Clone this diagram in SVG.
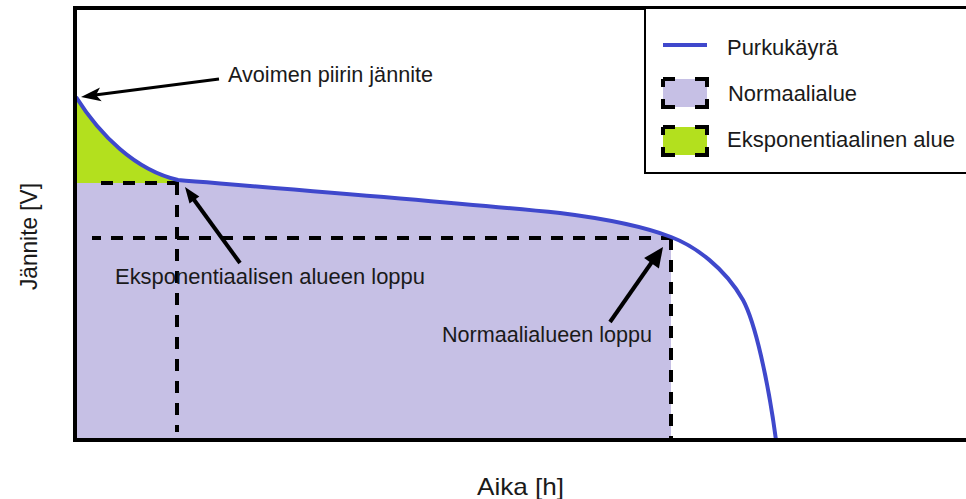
<svg xmlns="http://www.w3.org/2000/svg" width="966" height="499" viewBox="0 0 966 499">
<style>
  text { font-family: "Liberation Sans", Arial, sans-serif; fill: #1a1a1a; }
  .lbl { font-size: 21.5px; }
  .axis { font-size: 24px; }
  .dash { fill: none; stroke: #000; stroke-width: 4; stroke-dasharray: 12 10; }
  .frame { fill: none; stroke: #000; stroke-width: 4; }
  .curve { fill: none; stroke: #3f48cc; stroke-width: 4; stroke-linejoin: round; stroke-linecap: butt; }
  .arrow { fill: none; stroke: #000; stroke-width: 4; }
  .head { fill: #000; stroke: none; }
  .lbox { stroke: #000; stroke-width: 4; stroke-dasharray: 12 20 20 12 20 20 20 12 8 0; }
  .normal { fill: #c6c0e5; }
  .expo { fill: #b3e01e; }
</style>

<g id="background">
  <rect x="0" y="0" width="966" height="499" fill="#ffffff"/>
</g>

<g id="regions">
  <path id="normal-region" class="normal" d="M76,183 L178,183 L178,180 C300,190 450,202 560,213 C600,218 640,225 671,237 L671,440 L76,440 Z"/>
  <path id="expo-region" class="expo" d="M76,97 C100,135 135,170 178,180 L178,183 L76,183 Z"/>
</g>

<g id="guides">
  <path class="dash" d="M179,183 H93"/>
  <path class="dash" d="M177,183 V432"/>
  <path class="dash" d="M673,238 H92"/>
  <path class="dash" d="M671,238 V440"/>
</g>

<g id="discharge-curve">
  <path class="curve" d="M76,97 C100,135 135,170 178,180 C300,190 450,202 560,213 C600,218 640,225 671,237 C695,246 725,268 743,300 C755,322 768,380 776,440"/>
</g>

<g id="frame">
  <path class="frame" d="M966,8 H75 V440 H966"/>
</g>

<g id="legend">
  <rect x="645" y="8" width="330" height="165" fill="#ffffff" stroke="#000" stroke-width="2"/>
  <line x1="663" y1="45" x2="707" y2="45" stroke="#3f48cc" stroke-width="4"/>
  <text class="lbl" x="727" y="55" textLength="111" lengthAdjust="spacingAndGlyphs">Purkukäyrä</text>
  <rect class="lbox normal" x="663" y="79" width="44" height="28"/>
  <text class="lbl" x="728" y="101" textLength="129" lengthAdjust="spacingAndGlyphs">Normaalialue</text>
  <rect class="lbox expo" x="663" y="127" width="44" height="28"/>
  <text class="lbl" x="727" y="147" textLength="228" lengthAdjust="spacingAndGlyphs">Eksponentiaalinen alue</text>
</g>

<g id="connectors">
  <g id="arrow-ocv">
    <line class="arrow" x1="219" y1="79" x2="95" y2="95" style="stroke-width:3"/>
    <polygon class="head" points="81,97 100,87.5 96,95 101.7,101.3"/>
  </g>
  <g id="arrow-expo-end">
    <line class="arrow" x1="240" y1="263" x2="192" y2="197"/>
    <polygon class="head" points="185,187 199.3,196.5 189.5,203.5"/>
  </g>
  <g id="arrow-normal-end">
    <line class="arrow" x1="610" y1="322" x2="654" y2="259"/>
    <polygon class="head" points="663,247 658.9,268.5 644.1,258.1"/>
  </g>
</g>

<g id="label-ocv">
  <text class="lbl" x="228" y="82" textLength="205" lengthAdjust="spacingAndGlyphs">Avoimen piirin jännite</text>
</g>
<g id="label-expo-end">
  <text class="lbl" x="115" y="284" textLength="310" lengthAdjust="spacingAndGlyphs">Eksponentiaalisen alueen loppu</text>
</g>
<g id="label-normal-end">
  <text class="lbl" x="442" y="342" textLength="210" lengthAdjust="spacingAndGlyphs">Normaalialueen loppu</text>
</g>
<g id="axis-x">
  <text class="axis" x="477" y="495" textLength="87" lengthAdjust="spacingAndGlyphs">Aika [h]</text>
</g>
<g id="axis-y">
  <text class="axis" transform="translate(37,290) rotate(-90)" x="0" y="0" textLength="107" lengthAdjust="spacingAndGlyphs">Jännite [V]</text>
</g>
</svg>
